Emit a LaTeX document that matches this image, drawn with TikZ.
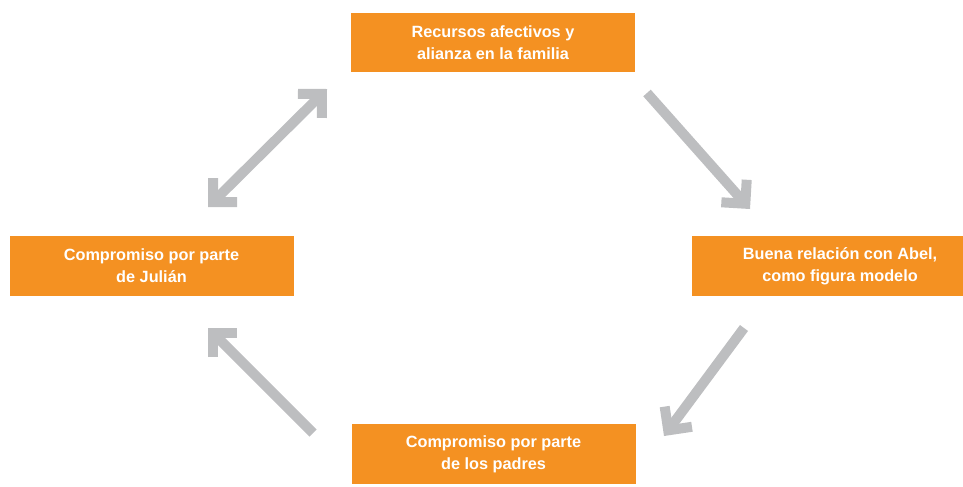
\documentclass[tikz,border=0pt]{standalone}
\usepackage{fontspec}
\setmainfont{Liberation Sans}
\usetikzlibrary{arrows.meta}
\definecolor{naranja}{HTML}{F49122}
\definecolor{gris}{HTML}{BDBEC0}

\begin{document}
\begin{tikzpicture}[x=0.75pt,y=-0.75pt,
    caja/.style={fill=naranja,text=white,align=center,inner sep=0pt,
        font=\bfseries\fontsize{12.2}{16.5}\selectfont,
        minimum width=213pt,minimum height=44.5pt},
    flecha/.style={draw=gris,line width=7.5pt,-{Straight Barb[angle=90:18pt 0]}},
    doble/.style={flecha,{Straight Barb[angle=90:18pt 0]}-{Straight Barb[angle=90:18pt 0]}}]
        \useasboundingbox (0,0) rectangle (963,486);

        \node[caja] (recursos) at (493,42.5) {Recursos afectivos y\\alianza en la familia};
        \node[caja] (julian) at (151.5,266) {Compromiso por parte\\de Juli\'an};
        \node[caja,minimum width=222pt] (abel) at (840,266) {Buena relaci\'on con Abel,\\como figura modelo};
        \node[caja] (padres) at (493.5,454) {Compromiso por parte\\de los padres};

        \coordinate (a1) at (208,207);
        \coordinate (a2) at (327,89);
        \coordinate (b1) at (647,93);
        \coordinate (b2) at (750,209);
        \coordinate (c1) at (744,328);
        \coordinate (c2) at (664,436);
        \coordinate (d1) at (313,433);
        \coordinate (d2) at (208,328);

        \draw[doble](a1)--(a2);
        \draw[flecha](b1)--(b2);
        \draw[flecha](c1)--(c2);
        \draw[flecha](d1)--(d2);
\end{tikzpicture}
\end{document}
